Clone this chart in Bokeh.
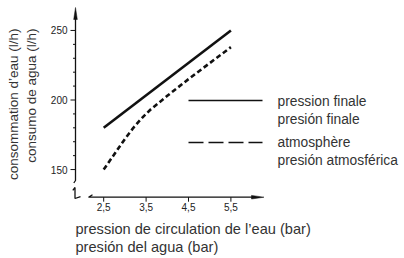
import math
from bokeh.plotting import figure
from bokeh.models import Range1d
from bokeh.core.properties import value
from bokeh.embed import file_html
from bokeh.resources import INLINE

# ---- data ----
final_x = [2.5, 5.5]
final_y = [180, 250]
atmos_x = [2.5, 3.0, 3.2, 3.4, 3.6, 4.0, 4.5, 5.0, 5.5]
atmos_y = [150, 172, 180, 187, 193, 203, 215, 226.5, 238]
x_ticks = [2.5, 3.5, 4.5, 5.5]
x_tick_labels = ["2,5", "3,5", "4,5", "5,5"]
y_ticks = [150, 200, 250]
y_tick_labels = ["150", "200", "250"]
y_minor_ticks = [160, 170, 180, 190, 210, 220, 230, 240]
legend_labels = ["pression finale", "presión finale", "atmosphère", "presión atmosférica"]
y_title = ["consommation d\u2019eau (l/h)", "consumo de agua (l/h)"]
x_title = ["pression de circulation de l\u2019eau (bar)", "presión del agua (bar)"]

# ---- canvas geometry: the frame fills the whole canvas (page pixels) ----
W, H = 404, 258
PX_PER_X = 42.4      # pixels per bar
PX_PER_Y = 1.391     # pixels per l/h
X_AT, X_PX = 2.5, 103.2
Y_AT, Y_PX = 200, 99.5
XS = X_AT - X_PX / PX_PER_X
XE = X_AT + (W - X_PX) / PX_PER_X
YE = Y_AT + Y_PX / PX_PER_Y
YS = Y_AT - (H - Y_PX) / PX_PER_Y

def X(px):
    return XS + px / PX_PER_X

def Y(py):
    return YE - py / PX_PER_Y

INK = "#111111"
TXT = "#333333"
FONT = value("Liberation Sans")
NARROW = value("Liberation Sans Narrow, Liberation Sans, sans-serif")

p = figure(width=W, height=H, output_backend="svg", toolbar_location=None,
           x_range=Range1d(XS, XE), y_range=Range1d(YS, YE),
           x_axis_location=None, y_axis_location=None,
           min_border=0)
p.outline_line_color = None
p.grid.visible = False
p.background_fill_color = "white"
p.border_fill_color = "white"

AX_X = 75      # y axis position (px)
AX_Y = 196.7   # x axis position (px)

# ---- axes: lines, breaks, arrow heads ----
def seg(pts, w=1.3, dash="solid"):
    p.line([X(a) for a, b in pts], [Y(b) for a, b in pts],
           line_color=INK, line_width=w, line_dash=dash)

def head(pts):
    p.patch([X(a) for a, b in pts], [Y(b) for a, b in pts],
            fill_color=INK, line_color=INK, line_width=0.5)

seg([(73.3, 182.5), (AX_X, 180), (AX_X, 16)])            # y axis with break hook
seg([(72.3, 189.8), (74.5, 187), (74.5, 198), (80, 196.2)])  # origin mark
seg([(92, 194.3), (88, AX_Y), (254, AX_Y)])               # x axis
head([(AX_X, 7), (AX_X - 1.8, 19), (AX_X + 1.8, 19)])
head([(263.5, AX_Y), (251, AX_Y - 1.8), (251, AX_Y + 1.8)])

# ticks (positions from the tick lists, lengths in pixels)
p.segment(x0=x_ticks, x1=x_ticks, y0=[Y(AX_Y)] * len(x_ticks), y1=[Y(AX_Y + 4.5)] * len(x_ticks),
          line_color=INK, line_width=1)
p.segment(x0=[X(AX_X - 5)] * len(y_ticks), x1=[X(AX_X)] * len(y_ticks), y0=y_ticks, y1=y_ticks,
          line_color=INK, line_width=1)
p.segment(x0=[X(AX_X - 2.5)] * len(y_minor_ticks), x1=[X(AX_X)] * len(y_minor_ticks),
          y0=y_minor_ticks, y1=y_minor_ticks, line_color=INK, line_width=1)

p.text(x=x_ticks, y=[Y(AX_Y + 6)] * len(x_ticks), text=x_tick_labels,
       text_font=NARROW, text_font_size="10px", text_align="center",
       text_baseline="top", text_color="#222222")
p.text(x=[X(AX_X - 8)] * len(y_ticks), y=y_ticks, text=y_tick_labels,
       text_font=NARROW, text_font_size="10px", text_align="right",
       text_baseline="middle", text_color="#222222")

# ---- data ----
p.line(final_x, final_y, line_color=INK, line_width=2.6)
p.line(atmos_x, atmos_y, line_color=INK, line_width=2.6, line_dash="5 3")

# ---- legend ----
seg([(188, 100), (262, 100)])
seg([(188, 142), (262, 142)], dash="15 5")
p.text(x=[X(277)] * 4, y=[Y(v) for v in (101, 119, 142, 160)], text=legend_labels,
       text_font=FONT, text_font_size="13.8px", text_baseline="middle", text_color=TXT)

# ---- axis titles ----
p.text(x=[X(12.5), X(31)], y=[Y(28)] * 2, text=y_title, angle=math.pi / 2,
       text_font=FONT, text_font_size="13.5px", text_align="right",
       text_baseline="alphabetic", text_color=TXT)
p.text(x=[X(75)] * 2, y=[Y(228), Y(246)], text=x_title,
       text_font=FONT, text_font_size="14.6px", text_baseline="middle", text_color=TXT)

open("out.html", "w").write(file_html(p, INLINE))
